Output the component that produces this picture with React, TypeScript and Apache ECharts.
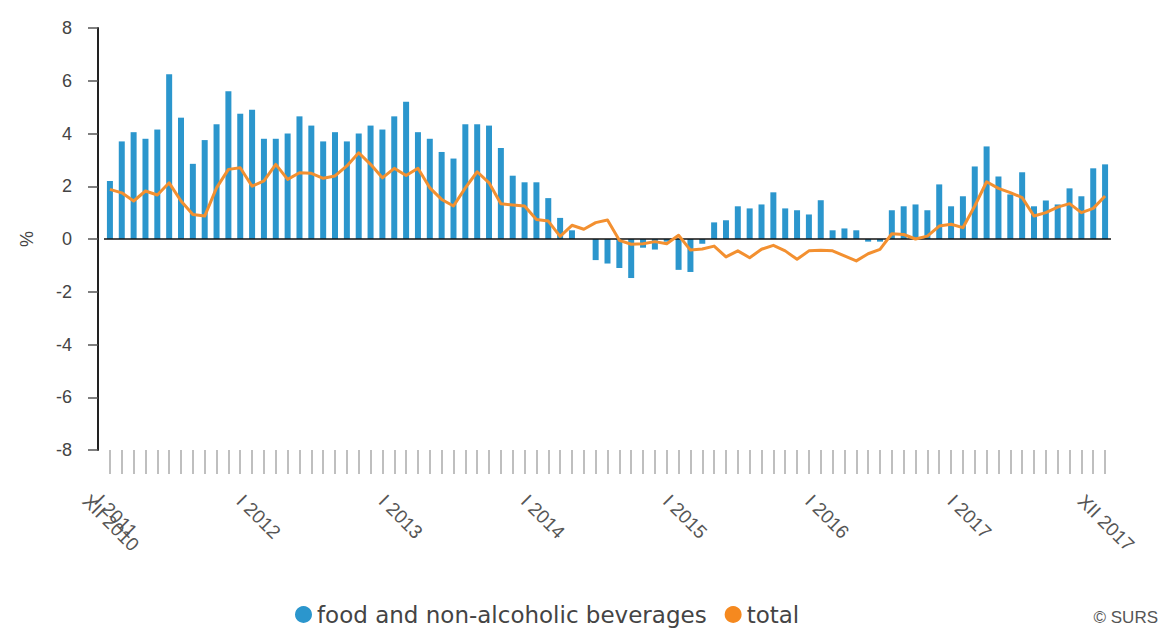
import React, { useEffect, useRef } from "react";
import * as echarts from "echarts";

const monthNames = ["I", "II", "III", "IV", "V", "VI", "VII", "VIII", "IX", "X", "XI", "XII"];
const years = [2011, 2012, 2013, 2014, 2015, 2016, 2017];
const categories: string[] = ["XII 2010", ...years.flatMap((y) => monthNames.map((m) => `${m} ${y}`))];

const foodValues = [
  2.2, 3.7, 4.05, 3.8, 4.15, 6.25, 4.6, 2.85, 3.75, 4.35, 5.6, 4.75, 4.9,
  3.8, 3.8, 4.0, 4.65, 4.3, 3.7, 4.05, 3.7, 4.0, 4.3, 4.15, 4.65,
  5.2, 4.05, 3.8, 3.3, 3.05, 4.35, 4.35, 4.3, 3.45, 2.4, 2.15, 2.15,
  1.55, 0.8, 0.33, 0.0, -0.8, -0.93, -1.1, -1.48, -0.33, -0.4, -0.1, -1.17,
  -1.25, -0.18, 0.63, 0.71, 1.24, 1.16, 1.31, 1.77, 1.16, 1.09, 0.93, 1.47,
  0.33, 0.4, 0.33, -0.1, -0.1, 1.09, 1.24, 1.31, 1.09, 2.07, 1.24, 1.62,
  2.75, 3.51, 2.37, 1.69, 2.53, 1.24, 1.46, 1.31, 1.92, 1.62, 2.68, 2.83,
];

const totalValues = [
  1.88, 1.75, 1.44, 1.82, 1.67, 2.13, 1.44, 0.93, 0.87, 1.94, 2.64, 2.7, 2.0,
  2.2, 2.83, 2.26, 2.51, 2.49, 2.3, 2.39, 2.77, 3.27, 2.83, 2.32, 2.68,
  2.41, 2.68, 1.94, 1.5, 1.25, 1.94, 2.55, 2.13, 1.34, 1.29, 1.25, 0.74,
  0.68, 0.1, 0.52, 0.37, 0.62, 0.72, -0.05, -0.2, -0.18, -0.1, -0.18, 0.14,
  -0.42, -0.38, -0.27, -0.68, -0.45, -0.71, -0.39, -0.24, -0.45, -0.77, -0.45, -0.43,
  -0.45, -0.64, -0.83, -0.56, -0.39, 0.2, 0.17, 0.0, 0.11, 0.49, 0.56, 0.43,
  1.25, 2.17, 1.92, 1.76, 1.57, 0.87, 1.0, 1.21, 1.34, 1.0, 1.16, 1.63,
];

const seriesNames = ["food and non-alcoholic beverages", "total"];
const shownLabels = ["XII 2010", "I 2012", "I 2013", "I 2014", "I 2015", "I 2016", "I 2017", "XII 2017"];
const shownLabelsOverlapping = ["I 2011"];

const labelStyle = {
  rotate: -45,
  margin: 72,
  padding: [0, 0, 0, -34],
  fontFamily: "Liberation Sans",
  fontSize: 19,
  color: "#555",
  hideOverlap: false,
};

export default function App() {
  const ref = useRef<HTMLDivElement>(null);
  useEffect(() => {
    document.body.style.margin = "0";
    const chart = echarts.init(ref.current!, null, { renderer: "svg" });
    chart.setOption({
      animation: false,
      backgroundColor: "#ffffff",
      grid: { left: 104, right: 53, top: 28, bottom: 184 },
      legend: {
        left: 290,
        top: 598,
        icon: "circle",
        itemWidth: 17,
        itemHeight: 17,
        itemGap: 18,
        textStyle: { fontFamily: "DejaVu Sans", fontSize: 23, color: "#444" },
        data: seriesNames,
      },
      graphic: [
        {
          type: "text",
          right: 6,
          bottom: 8,
          style: { text: "© SURS", fontFamily: "Liberation Sans", fontSize: 17, fill: "#555" },
        },
      ],
      xAxis: [
        {
          type: "category",
          data: categories,
          position: "bottom",
          axisLine: { show: false, onZero: false },
          axisTick: {
            show: true,
            interval: 0,
            alignWithLabel: true,
            length: 24,
            lineStyle: { color: "#aaa", width: 1.5 },
          },
          axisLabel: {
            ...labelStyle,
            interval: (_i: number, v: string) => shownLabels.includes(v),
            showMinLabel: true,
            showMaxLabel: true,
          },
          splitLine: { show: false },
        },
        {
          type: "category",
          data: categories,
          position: "bottom",
          axisLine: { show: false, onZero: false },
          axisTick: { show: false },
          axisLabel: {
            ...labelStyle,
            interval: (_i: number, v: string) => shownLabelsOverlapping.includes(v),
            showMinLabel: false,
            showMaxLabel: false,
          },
          splitLine: { show: false },
        },
      ],
      yAxis: {
        type: "value",
        min: -8,
        max: 8,
        interval: 2,
        offset: 6,
        name: "%",
        nameLocation: "middle",
        nameRotate: 90,
        nameGap: 62,
        nameTextStyle: { fontFamily: "Liberation Sans", fontSize: 18, color: "#444" },
        axisLine: { show: true, lineStyle: { color: "#222", width: 2 } },
        axisTick: { show: true, length: 10, lineStyle: { color: "#555", width: 1.5 } },
        axisLabel: { margin: 26, fontFamily: "Liberation Sans", fontSize: 18, color: "#444" },
        splitLine: { show: false },
      },
      series: [
        {
          name: seriesNames[0],
          type: "bar",
          xAxisIndex: 0,
          data: foodValues,
          barWidth: 6,
          itemStyle: { color: "#2b96cd" },
          markLine: {
            silent: true,
            symbol: "none",
            label: { show: false },
            lineStyle: { color: "#111", width: 1.5, type: "solid" },
            data: [{ yAxis: 0 }],
          },
        },
        {
          name: seriesNames[1],
          type: "line",
          xAxisIndex: 0,
          data: totalValues,
          showSymbol: false,
          symbol: "circle",
          itemStyle: { color: "#f5891f" },
          lineStyle: { color: "#f39030", width: 3, join: "round" },
          z: 5,
        },
      ],
    });
    return () => chart.dispose();
  }, []);
  return <div ref={ref} style={{ width: 1164, height: 634 }} />;
}
